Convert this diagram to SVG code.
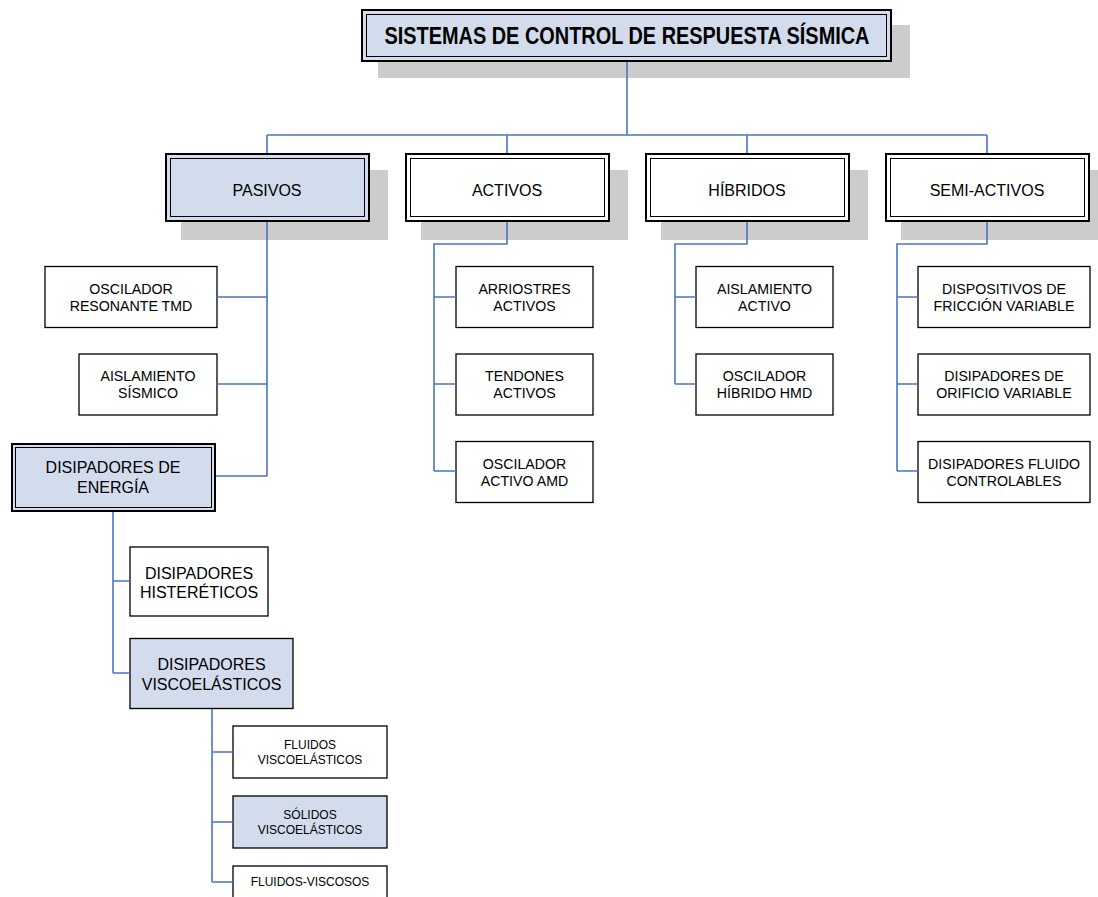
<svg xmlns="http://www.w3.org/2000/svg" width="1098" height="897" viewBox="0 0 1098 897">
<style>
.sh{fill:#cccccc}
.o{fill:none;stroke:#000;stroke-width:2}
.i{fill:none;stroke:#000;stroke-width:1}
.w{fill:#ffffff;stroke:#000;stroke-width:1.3}
.b{fill:#d2dcec;stroke:#000;stroke-width:1.3}
.fw{fill:#ffffff}
.fb{fill:#d2dcec}
text{font-family:"Liberation Sans",Arial,sans-serif;fill:#000;text-anchor:middle}
.t1{font-size:16px}
.t2{font-size:14.2px}
.t3{font-size:16px}
.t4{font-size:12px}
.tt{font-size:23px;font-weight:bold}
.c{fill:none;stroke:#4a76c2;stroke-width:1.6}
</style>
<rect x="0" y="0" width="1098" height="897" fill="#fff"/>
<g id="title">
<rect class="sh" x="378" y="25" width="532" height="53"/>
<rect class="fb" x="361" y="9" width="531" height="53"/>
<rect class="o" x="362" y="10" width="529" height="51"/>
<rect class="i" x="366.5" y="14.5" width="520" height="42"/>
<text class="tt" x="627" y="44" textLength="485" lengthAdjust="spacingAndGlyphs">SISTEMAS DE CONTROL DE RESPUESTA SÍSMICA</text>
</g>
<g id="pasivos">
<rect class="sh" x="181" y="170" width="207" height="70"/>
<rect class="fb" x="165" y="153" width="205" height="69"/>
<rect class="o" x="166" y="154" width="203" height="67"/>
<rect class="i" x="170.5" y="158.5" width="194" height="58"/>
<text class="t1" x="267" y="196">PASIVOS</text>
</g>
<g id="activos">
<rect class="sh" x="421" y="170" width="207" height="70"/>
<rect class="fw" x="405" y="153" width="205" height="69"/>
<rect class="o" x="406" y="154" width="203" height="67"/>
<rect class="i" x="410.5" y="158.5" width="194" height="58"/>
<text class="t1" x="507" y="196">ACTIVOS</text>
</g>
<g id="hibridos">
<rect class="sh" x="661" y="170" width="207" height="70"/>
<rect class="fw" x="645" y="153" width="205" height="69"/>
<rect class="o" x="646" y="154" width="203" height="67"/>
<rect class="i" x="650.5" y="158.5" width="194" height="58"/>
<text class="t1" x="747" y="196">HÍBRIDOS</text>
</g>
<g id="semiactivos">
<rect class="sh" x="901" y="170" width="197" height="70"/>
<rect class="fw" x="885" y="153" width="205" height="69"/>
<rect class="o" x="886" y="154" width="203" height="67"/>
<rect class="i" x="890.5" y="158.5" width="194" height="58"/>
<text class="t1" x="987" y="196">SEMI-ACTIVOS</text>
</g>
<g id="tmd">
<rect class="w" x="45" y="266.5" width="172" height="61"/>
<text class="t2" x="131" y="294">OSCILADOR</text>
<text class="t2" x="131" y="311">RESONANTE TMD</text>
</g>
<g id="aislamiento">
<rect class="w" x="79" y="354" width="138" height="61"/>
<text class="t2" x="148" y="381">AISLAMIENTO</text>
<text class="t2" x="148" y="398">SÍSMICO</text>
</g>
<g id="disipadores-energia">
<rect class="fb" x="11" y="443" width="205" height="69"/>
<rect class="o" x="12" y="444" width="203" height="67"/>
<rect class="i" x="15.5" y="447.5" width="196" height="60"/>
<text class="t3" x="113" y="473">DISIPADORES DE</text>
<text class="t3" x="113" y="493">ENERGÍA</text>
</g>
<g id="arriostres">
<rect class="w" x="456" y="266.5" width="137" height="61"/>
<text class="t2" x="524.5" y="294">ARRIOSTRES</text>
<text class="t2" x="524.5" y="311">ACTIVOS</text>
</g>
<g id="tendones">
<rect class="w" x="456" y="354" width="137" height="61"/>
<text class="t2" x="524.5" y="381">TENDONES</text>
<text class="t2" x="524.5" y="398">ACTIVOS</text>
</g>
<g id="amd">
<rect class="w" x="456" y="441.5" width="137" height="61"/>
<text class="t2" x="524.5" y="469">OSCILADOR</text>
<text class="t2" x="524.5" y="486">ACTIVO AMD</text>
</g>
<g id="aislamiento-activo">
<rect class="w" x="696" y="266.5" width="137" height="61"/>
<text class="t2" x="764.5" y="294">AISLAMIENTO</text>
<text class="t2" x="764.5" y="311">ACTIVO</text>
</g>
<g id="hmd">
<rect class="w" x="696" y="354" width="137" height="61"/>
<text class="t2" x="764.5" y="381">OSCILADOR</text>
<text class="t2" x="764.5" y="398">HÍBRIDO HMD</text>
</g>
<g id="friccion">
<rect class="w" x="918" y="266.5" width="172" height="61"/>
<text class="t2" x="1004" y="294">DISPOSITIVOS DE</text>
<text class="t2" x="1004" y="311">FRICCIÓN VARIABLE</text>
</g>
<g id="orificio">
<rect class="w" x="918" y="354" width="172" height="61"/>
<text class="t2" x="1004" y="381">DISIPADORES DE</text>
<text class="t2" x="1004" y="398">ORIFICIO VARIABLE</text>
</g>
<g id="fluido-controlables">
<rect class="w" x="918" y="441.5" width="172" height="61"/>
<text class="t2" x="1004" y="469">DISIPADORES FLUIDO</text>
<text class="t2" x="1004" y="486">CONTROLABLES</text>
</g>
<g id="histereticos">
<rect class="w" x="130" y="547" width="138" height="69"/>
<text class="t3" x="199" y="579">DISIPADORES</text>
<text class="t3" x="199" y="598">HISTERÉTICOS</text>
</g>
<g id="viscoelasticos">
<rect class="b" x="130" y="638.5" width="163" height="70"/>
<text class="t3" x="211.5" y="670">DISIPADORES</text>
<text class="t3" x="211.5" y="690">VISCOELÁSTICOS</text>
</g>
<g id="fluidos-visco">
<rect class="w" x="233" y="726" width="154" height="52"/>
<text class="t4" x="310" y="749">FLUIDOS</text>
<text class="t4" x="310" y="764">VISCOELÁSTICOS</text>
</g>
<g id="solidos-visco">
<rect class="b" x="233" y="796" width="154" height="52"/>
<text class="t4" x="310" y="819">SÓLIDOS</text>
<text class="t4" x="310" y="834">VISCOELÁSTICOS</text>
</g>
<g id="fluidos-viscosos">
<rect class="w" x="233" y="866" width="154" height="40"/>
<text class="t4" x="310" y="886">FLUIDOS-VISCOSOS</text>
</g>
<g id="connectors">
<path class="c" d="M627 62V135M267 135H987M267 135V153M507 135V153M747 135V153M987 135V153"/>
<path class="c" d="M267 222V476M217 297H267M217 384H267M216 476H267"/>
<path class="c" d="M507 222V244H434V471M434 297H456M434 384H456M434 471H456"/>
<path class="c" d="M747 222V244H675V384M675 297H696M675 384H696"/>
<path class="c" d="M987 222V244H897V471M897 297H918M897 384H918M897 471H918"/>
<path class="c" d="M113 512V673M113 581H130M113 673H130"/>
<path class="c" d="M212 709V882M212 752H233M212 822H233M212 882H233"/>
</g>
</svg>
